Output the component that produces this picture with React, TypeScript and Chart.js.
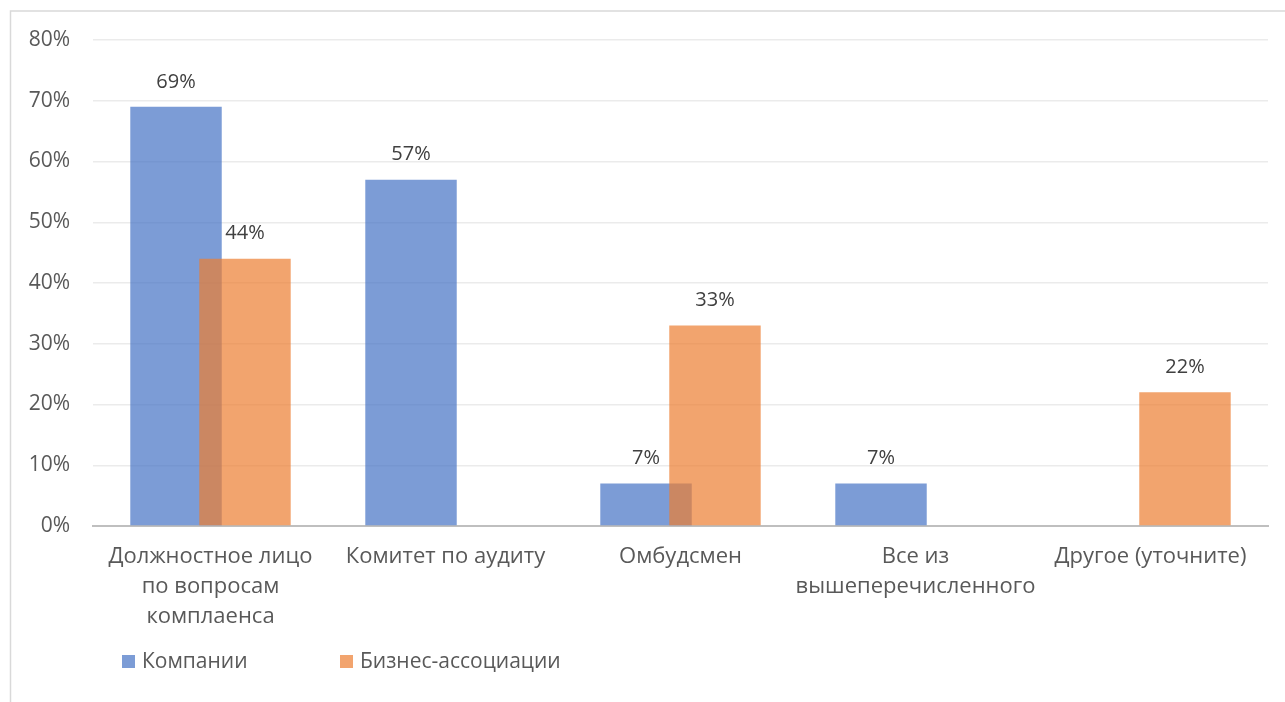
import React, { useEffect, useRef } from "react";
import { Chart, registerables } from "chart.js";

Chart.register(...registerables);

const categories: (string | string[])[] = [
  ["Должностное лицо", "по вопросам", "комплаенса"],
  "Комитет по аудиту",
  "Омбудсмен",
  ["Все из", "вышеперечисленного"],
  "Другое (уточните)",
];
const companies: (number | null)[] = [69, 57, 7, 7, null];
const associations: (number | null)[] = [44, null, 33, null, 22];
const seriesNames = ["Компании", "Бизнес-ассоциации"];
const yTicks = [0, 10, 20, 30, 40, 50, 60, 70, 80];

const FONT = "'Open Sans', 'Noto Sans', sans-serif";
const BLUE = "rgba(68,114,196,0.7)";
const ORANGE = "rgba(237,125,49,0.7)";

const framePlugin = {
  id: "frame",
  beforeDraw(chart: any) {
    const ctx = chart.ctx;
    ctx.save();
    ctx.strokeStyle = "#D9D9D9";
    ctx.lineWidth = 1.5;
    ctx.beginPath();
    ctx.moveTo(10.5, chart.height);
    ctx.lineTo(10.5, 11);
    ctx.lineTo(chart.width, 11);
    ctx.stroke();
    ctx.restore();
  },
};

// draw the first series underneath the second one (Excel-style overlap)
const orderPlugin = {
  id: "drawOrder",
  beforeDatasetsDraw(chart: any) {
    const meta = chart.getDatasetMeta(0);
    if (meta && meta.controller) meta.controller.draw();
  },
  beforeDatasetDraw(chart: any, args: any) {
    if (args.index === 0) return false;
  },
};

const labelsPlugin = {
  id: "valueLabels",
  afterDatasetsDraw(chart: any) {
    const ctx = chart.ctx;
    ctx.save();
    ctx.font = `20px ${FONT}`;
    ctx.fillStyle = "#404040";
    ctx.textAlign = "center";
    ctx.textBaseline = "middle";
    chart.data.datasets.forEach((ds: any, di: number) => {
      const meta = chart.getDatasetMeta(di);
      meta.data.forEach((bar: any, i: number) => {
        const v = ds.data[i];
        if (v === null || v === undefined) return;
        ctx.fillText(`${v}%`, bar.x, bar.y - 25);
      });
    });
    ctx.restore();
  },
};

const legendPlugin = {
  id: "customLegend",
  afterDraw(chart: any) {
    const ctx = chart.ctx;
    const items = [
      { x: 122, color: BLUE, text: seriesNames[0] },
      { x: 340, color: ORANGE, text: seriesNames[1] },
    ];
    ctx.save();
    ctx.font = `21px ${FONT}`;
    ctx.textBaseline = "middle";
    ctx.textAlign = "left";
    items.forEach((it) => {
      ctx.fillStyle = it.color;
      ctx.fillRect(it.x, 655, 13, 13);
      ctx.fillStyle = "#595959";
      ctx.fillText(it.text, it.x + 20, 662);
    });
    ctx.restore();
  },
};

export default function App() {
  const ref = useRef<HTMLCanvasElement | null>(null);
  useEffect(() => {
    if (!ref.current) return;
    const chart = new Chart(ref.current, {
      type: "bar",
      data: {
        labels: categories as any,
        datasets: [
          {
            label: seriesNames[0],
            data: companies,
            backgroundColor: BLUE,
            categoryPercentage: 0.587,
            barPercentage: 1.326,
          },
          {
            label: seriesNames[1],
            data: associations,
            backgroundColor: ORANGE,
            categoryPercentage: 0.587,
            barPercentage: 1.326,
          },
        ],
      },
      options: {
        animation: false,
        responsive: true,
        maintainAspectRatio: false,
        layout: { padding: { top: 40, right: 17, left: 0, bottom: 0 } },
        plugins: {
          legend: { display: false },
          tooltip: { enabled: false },
        },
        scales: {
          x: {
            grid: { display: false, drawTicks: false },
            border: { display: true, color: "#BFBFBF", width: 2 },
            ticks: {
              color: "#595959",
              font: { family: FONT, size: 22, lineHeight: 30 / 22 },
              padding: 16,
              maxRotation: 0,
              autoSkip: false,
            },
            afterFit(scale: any) {
              scale.height = 176;
            },
          },
          y: {
            min: 0,
            max: 80,
            afterBuildTicks(scale: any) {
              scale.ticks = yTicks.map((v) => ({ value: v }));
            },
            grid: { color: "#EBEBEB", lineWidth: 1.5, drawTicks: false },
            border: { display: false },
            ticks: {
              color: "#595959",
              font: { family: FONT, size: 21 },
              padding: 23,
              callback: (v: any) => `${v}%`,
            },
            afterFit(scale: any) {
              scale.width = 93;
            },
          },
        },
      },
      plugins: [framePlugin, orderPlugin, labelsPlugin, legendPlugin],
    });
    return () => chart.destroy();
  }, []);
  return (
    <div style={{ position: "fixed", left: 0, top: 0, width: 1285, height: 702, background: "#fff" }}>
      <canvas ref={ref} />
    </div>
  );
}
